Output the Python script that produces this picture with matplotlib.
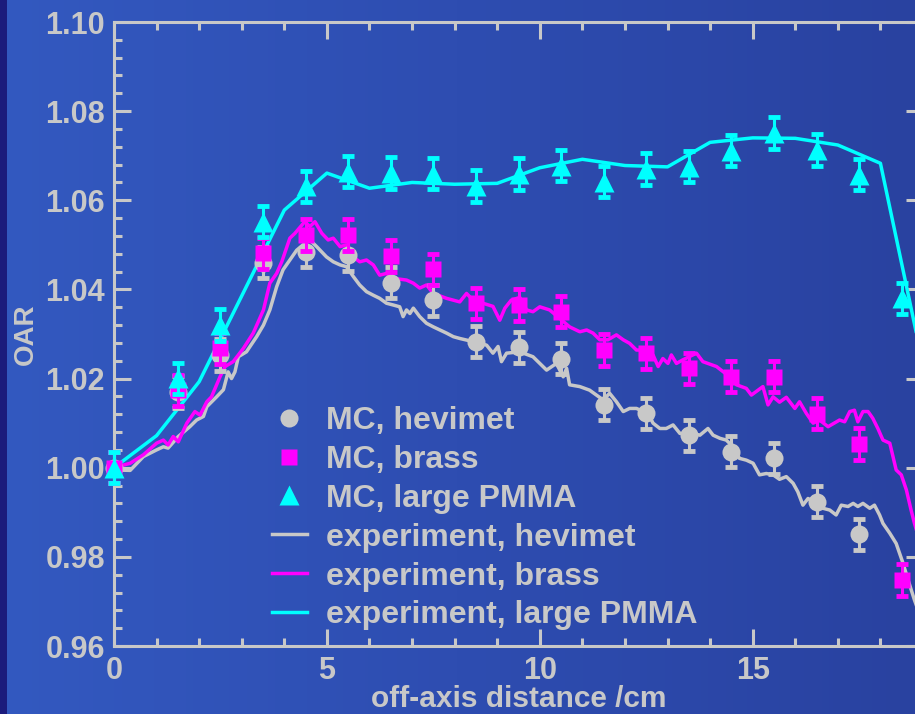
import numpy as np
import matplotlib.pyplot as plt
from matplotlib.colors import LinearSegmentedColormap
from matplotlib.ticker import MultipleLocator, FormatStrFormatter

plt.rcParams['font.family'] = ['Liberation Sans', 'DejaVu Sans']
plt.rcParams['font.weight'] = 'bold'
plt.rcParams['axes.labelweight'] = 'bold'

FG = '#c8c8c8'
MAGENTA = '#ff00ff'
CYAN = '#00ffff'

# Monte Carlo points (off-axis distance in cm)
mc_x = [0, 1.5, 2.5, 3.5, 4.5, 5.5, 6.5, 7.5, 8.5, 9.5, 10.5, 11.5, 12.5,
        13.5, 14.5, 15.5, 16.5, 17.5, 18.5]
mc_hevimet = [1.000, 1.0170, 1.0253, 1.0460, 1.0485, 1.0477, 1.0415, 1.0376,
              1.0283, 1.0270, 1.0245, 1.0141, 1.0122, 1.0073, 1.0036, 1.0021,
              0.9924, 0.9851]
mc_brass = [1.000, 1.0174, 1.0268, 1.0481, 1.0522, 1.0522, 1.0475, 1.0445,
            1.0369, 1.0365, 1.0350, 1.0264, 1.0257, 1.0223, 1.0204, 1.0204,
            1.0121, 1.0053, 0.9748]
mc_pmma = [1.000, 1.0201, 1.0320, 1.0552, 1.0631, 1.0664, 1.0661, 1.0660,
           1.0632, 1.0659, 1.0678, 1.0642, 1.0670, 1.0675, 1.0711, 1.0751,
           1.0713, 1.0657, 1.0380]
mc_err = 0.0035

# measured profiles
exp_hevimet_x = [0.0, 0.38, 0.69, 1.00, 1.16, 1.27, 1.51, 1.78, 1.94, 2.10,
                 2.18, 2.41, 2.57, 2.68, 2.76, 2.84, 2.92, 3.11, 3.35, 3.51,
                 3.66, 3.82, 3.97, 4.13, 4.29, 4.44, 4.60, 4.76, 4.84, 4.99,
                 5.15, 5.31, 5.46, 5.62, 5.77, 5.93, 6.09, 6.24, 6.40, 6.56,
                 6.71, 6.79, 6.87, 6.95, 7.03, 7.18, 7.34, 7.50, 7.81, 7.97,
                 8.12, 8.43, 8.75, 8.90, 9.02, 9.10, 9.22, 9.53, 9.84, 10.16,
                 10.39, 10.55, 10.63, 10.70, 10.94, 11.17, 11.49, 11.64, 11.80,
                 11.96, 12.11, 12.27, 12.43, 12.58, 12.66, 12.82, 12.97, 13.13,
                 13.29, 13.60, 13.76, 13.95, 14.07, 14.23, 14.38, 14.54, 14.69,
                 14.85, 15.01, 15.16, 15.32, 15.48, 15.63, 15.79, 15.95, 16.06,
                 16.18, 16.30, 16.42, 16.65, 16.81, 16.96, 17.08, 17.24, 17.36,
                 17.47, 17.59, 17.75, 17.86, 17.98, 18.06, 18.22, 18.37, 18.53,
                 18.65, 18.80, 19.0]
exp_hevimet = [0.9995, 0.9994, 1.0025, 1.0040, 1.0047, 1.0044, 1.0070, 1.0092,
               1.0107, 1.0115, 1.0137, 1.0159, 1.0175, 1.0215, 1.0200, 1.0215,
               1.0249, 1.0260, 1.0294, 1.0320, 1.0354, 1.0406, 1.0444, 1.0466,
               1.0488, 1.0500, 1.0511, 1.0496, 1.0488, 1.0473, 1.0462, 1.0455,
               1.0451, 1.0429, 1.0410, 1.0395, 1.0387, 1.0380, 1.0369, 1.0365,
               1.0361, 1.0339, 1.0354, 1.0346, 1.0358, 1.0339, 1.0324, 1.0316,
               1.0302, 1.0294, 1.0290, 1.0283, 1.0275, 1.0257, 1.0272, 1.0238,
               1.0257, 1.0260, 1.0249, 1.0219, 1.0234, 1.0204, 1.0223, 1.0186,
               1.0182, 1.0174, 1.0152, 1.0167, 1.0148, 1.0126, 1.0133, 1.0133,
               1.0126, 1.0115, 1.0100, 1.0088, 1.0088, 1.0096, 1.0077, 1.0077,
               1.0073, 1.0088, 1.0073, 1.0066, 1.0062, 1.0047, 1.0021, 1.0017,
               1.0010, 0.9984, 0.9987, 0.9984, 0.9974, 0.9980, 0.9965, 0.9946,
               0.9916, 0.9931, 0.9924, 0.9909, 0.9905, 0.9894, 0.9916, 0.9913,
               0.9920, 0.9913, 0.9920, 0.9909, 0.9916, 0.9894, 0.9875, 0.9853,
               0.9830, 0.9786, 0.9748, 0.9703, 0.9650]

exp_brass_x = [0.0, 0.38, 0.69, 1.00, 1.16, 1.27, 1.39, 1.51, 1.71, 1.90, 2.02,
               2.18, 2.29, 2.49, 2.61, 2.80, 2.92, 3.04, 3.27, 3.51, 3.66, 3.82,
               3.94, 4.13, 4.25, 4.48, 4.60, 4.72, 4.88, 5.03, 5.15, 5.31, 5.46,
               5.62, 5.77, 5.93, 6.09, 6.24, 6.40, 6.56, 6.87, 7.03, 7.18, 7.34,
               7.50, 7.81, 8.12, 8.28, 8.43, 8.90, 9.06, 9.18, 9.33, 9.53, 9.69,
               9.84, 10.0, 10.23, 10.47, 10.70, 10.94, 11.10, 11.25, 11.41,
               11.60, 11.80, 11.96, 12.11, 12.27, 12.50, 12.66, 12.78, 12.89,
               13.01, 13.09, 13.21, 13.36, 13.68, 13.83, 14.15, 14.46, 14.62,
               14.85, 14.97, 15.24, 15.36, 15.48, 15.63, 15.79, 15.99, 16.10,
               16.26, 16.42, 16.57, 16.77, 17.04, 17.16, 17.28, 17.39, 17.47,
               17.59, 17.71, 17.82, 17.94, 18.06, 18.22, 18.37, 18.49, 18.61,
               18.72, 18.80, 19.0]
exp_brass = [1.000, 1.0010, 1.0029, 1.0055, 1.0062, 1.0051, 1.0070, 1.0058,
             1.0100, 1.0126, 1.0118, 1.0148, 1.0159, 1.0204, 1.0227, 1.0238,
             1.0253, 1.0268, 1.0302, 1.0354, 1.0414, 1.0436, 1.0462, 1.0515,
             1.0526, 1.0552, 1.0541, 1.0552, 1.0526, 1.0511, 1.0515, 1.0496,
             1.0500, 1.0473, 1.0462, 1.0466, 1.0455, 1.0432, 1.0436, 1.0425,
             1.0421, 1.0414, 1.0403, 1.0410, 1.0391, 1.0380, 1.0372, 1.0391,
             1.0376, 1.0362, 1.0331, 1.0358, 1.0376, 1.0382, 1.0354, 1.0350,
             1.0361, 1.0354, 1.0335, 1.0316, 1.0305, 1.0309, 1.0302, 1.0287,
             1.0287, 1.0298, 1.0287, 1.0279, 1.0264, 1.0264, 1.0253, 1.0227,
             1.0245, 1.0234, 1.0253, 1.0234, 1.0242, 1.0257, 1.0238, 1.0227,
             1.0204, 1.0186, 1.0178, 1.0163, 1.0182, 1.0141, 1.0159, 1.0147,
             1.0158, 1.0133, 1.0148, 1.0122, 1.0100, 1.0107, 1.0092, 1.0107,
             1.0103, 1.0126, 1.0129, 1.0103, 1.0126, 1.0126, 1.0111, 1.0088,
             1.0062, 1.0055, 0.9995, 0.9984, 0.9950, 0.9905, 0.9875, 0.9810]

exp_pmma_x = [0, 1, 2, 4, 5, 6, 7, 8, 9, 10, 11, 12, 13, 14, 15, 16, 17, 18, 19]
exp_pmma = [1.000, 1.0072, 1.0193, 1.0578, 1.0661, 1.0627, 1.0640, 1.0636,
            1.0638, 1.0673, 1.0692, 1.0678, 1.0675, 1.0730, 1.0740, 1.0739,
            1.0724, 1.0683, 1.0232]

fig = plt.figure(figsize=(9.15, 7.14), dpi=100)

# blue backdrop with a dark strip on the left edge
bg = fig.add_axes([0, 0, 1, 1])
bg_cmap = LinearSegmentedColormap.from_list('bg', ['#3359c0', '#2e4db1', '#2942a0'])
bg.imshow(np.linspace(0, 1, 256).reshape(1, -1), cmap=bg_cmap, aspect='auto',
          extent=(0, 1, 0, 1))
bg.axvspan(0, 7 / 915, color='#1b1b7c', lw=0)
bg.set_xlim(0, 1)
bg.set_ylim(0, 1)
bg.axis('off')

ax = fig.add_axes([114 / 915, 68 / 714, 809 / 915, 624 / 714])
ax.set_facecolor('none')

# measured curves
l_hev, = ax.plot(exp_hevimet_x, exp_hevimet, color=FG, lw=2.5, zorder=2,
                 label='experiment, hevimet')
l_bra, = ax.plot(exp_brass_x, exp_brass, color=MAGENTA, lw=2.5, zorder=2.1,
                 label='experiment, brass')
l_pmm, = ax.plot(exp_pmma_x, exp_pmma, color=CYAN, lw=2.5, zorder=2.2,
                 label='experiment, large PMMA')

# MC points with error bars
handles = []
for ys, col, mk, ms, lab, z in [
        (mc_hevimet, FG, 'o', 13, 'MC, hevimet', 3),
        (mc_brass, MAGENTA, 's', 11.5, 'MC, brass', 3.1),
        (mc_pmma, CYAN, '^', 14, 'MC, large PMMA', 3.2)]:
    xs = mc_x[:len(ys)]
    eb = ax.errorbar(xs, ys, yerr=mc_err, fmt='none', ecolor=col, elinewidth=2.2,
                     capsize=4, capthick=3.5, zorder=z)
    for art in eb.get_children():
        art.set_clip_on(False)
    h, = ax.plot(xs, ys, linestyle='none', marker=mk, ms=ms, color=col,
                 mec='none', zorder=z, clip_on=False, label=lab)
    handles.append(h)

ax.set_xlim(0, 19)
ax.set_ylim(0.96, 1.10)
ax.set_xticks([0, 5, 10, 15])
ax.xaxis.set_minor_locator(MultipleLocator(1))
ax.set_yticks(np.arange(0.96, 1.1001, 0.02))
ax.yaxis.set_minor_locator(MultipleLocator(0.004))
ax.yaxis.set_major_formatter(FormatStrFormatter('%.2f'))
ax.tick_params(which='both', direction='in', top=True, right=True,
               colors=FG, width=2.2, labelsize=22)
ax.tick_params(which='major', length=12)
ax.tick_params(which='minor', length=6)
ax.tick_params(axis='x', pad=7)
ax.tick_params(axis='y', pad=6.5)
for sp in ax.spines.values():
    sp.set_color(FG)
    sp.set_linewidth(2.2)

ax.set_xlabel('off-axis distance /cm', fontsize=21.5, color=FG)
ax.xaxis.set_label_coords(0.5, -0.062)
ax.set_ylabel('OAR', fontsize=20, color=FG)
ax.yaxis.set_label_coords(-0.0927, 0.5)

ax.legend(handles=handles + [l_hev, l_bra, l_pmm], loc='upper left',
          bbox_to_anchor=(0.195, 0.385), frameon=False, fontsize=23,
          labelcolor=FG, handlelength=1.1, handletextpad=0.6,
          labelspacing=0.28, borderpad=0, borderaxespad=0, numpoints=1)

fig.savefig('out.png', dpi=100)
